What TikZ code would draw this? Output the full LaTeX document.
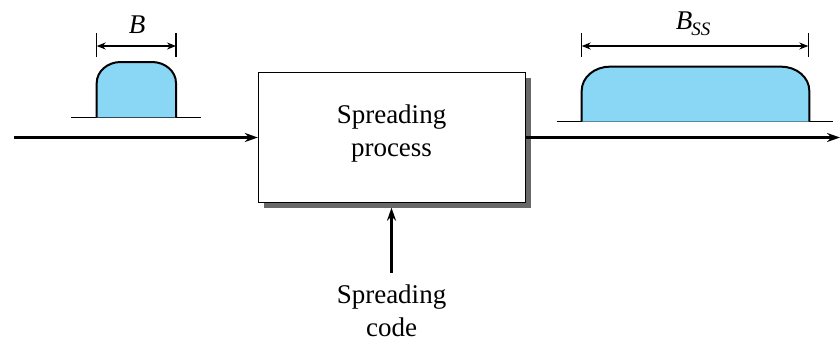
\documentclass[tikz,border=0pt]{standalone}
\usepackage{fontspec}
\setmainfont{Liberation Serif}
\usetikzlibrary{arrows.meta,calc}
\definecolor{pulseblue}{RGB}{138,214,245}
\definecolor{shadowgray}{RGB}{105,105,105}
\tikzset{
  mainarrow/.style={line width=2.4pt,-{Stealth[length=13pt,width=9pt]}},
  dimline/.style={line width=1.3pt,{Stealth[length=9pt,width=7pt]}-{Stealth[length=9pt,width=7pt]}},
  tick/.style={line width=1.3pt},
  baseline/.style={line width=1.5pt},
  pulse/.style={fill=pulseblue,draw=black,line width=2pt,line join=round},
  lbl/.style={font=\fontsize{27}{33}\selectfont,align=center,inner sep=0pt},
  dimlbl/.style={font=\fontsize{27}{30}\selectfont,inner sep=0pt,anchor=base}
}
\begin{document}
\begin{tikzpicture}[x=1pt,y=-1pt]
\useasboundingbox (0,0) rectangle (840,341);
% shadow and box
\node[fill=shadowgray,minimum width=267pt,minimum height=130pt,inner sep=0pt] (shadow) at (397,142.5) {};
\node[fill=white,draw=black,line width=1.3pt,minimum width=267pt,minimum height=130pt,inner sep=0pt] (proc) at (392,137.5) {};
\node[lbl] (proclabel) at (391.5,134) {Spreading\\process};
% input / output
\coordinate (in) at (14,137.5);
\coordinate (out) at (840,137.5);
\draw[mainarrow] (in) -- (proc.west);
\draw[mainarrow] (proc.east) -- (out);
% spreading code
\node[lbl] (code) at (391.5,311) {Spreading\\code};
\coordinate (codetop) at (391.5,273);
\draw[mainarrow] (codetop) -- (codetop |- shadow.south);
% small pulse
\coordinate (sbl) at (71,117.3);
\coordinate (sbr) at (201,117.3);
\draw[baseline] (sbl) -- (sbr);
\draw[pulse] (96.7,117.3) -- (96.7,83) arc[start angle=180,end angle=90,x radius=24pt,y radius=21pt]
  -- (152,62) arc[start angle=90,end angle=0,x radius=24pt,y radius=21pt] -- (176,117.3);
\coordinate (sl) at (96.7,46);
\coordinate (sr) at (176,46);
\draw[tick] (96.7,33) -- (96.7,57);
\draw[tick] (176,33) -- (176,57);
\draw[dimline] (sl) -- (sr);
\node[dimlbl] (blabel) at (137,33) {\itshape B};
% big pulse
\coordinate (bbl) at (556.7,121.7);
\coordinate (bbr) at (833,121.7);
\draw[baseline] (bbl) -- (bbr);
\draw[pulse] (581.7,121.7) -- (581.7,90.7) arc[start angle=180,end angle=90,x radius=28pt,y radius=24pt]
  -- (781.3,66.7) arc[start angle=90,end angle=0,x radius=28pt,y radius=24pt] -- (809.3,121.7);
\coordinate (bl) at (581.7,46);
\coordinate (br) at (808.3,46);
\draw[tick] (581.7,33) -- (581.7,57);
\draw[tick] (808.3,33) -- (808.3,57);
\draw[dimline] (bl) -- (br);
\node[dimlbl] (bsslabel) at (693,29) {\itshape B\kern-1pt\raisebox{-6pt}{\fontsize{19}{20}\selectfont SS}};
\end{tikzpicture}
\end{document}
